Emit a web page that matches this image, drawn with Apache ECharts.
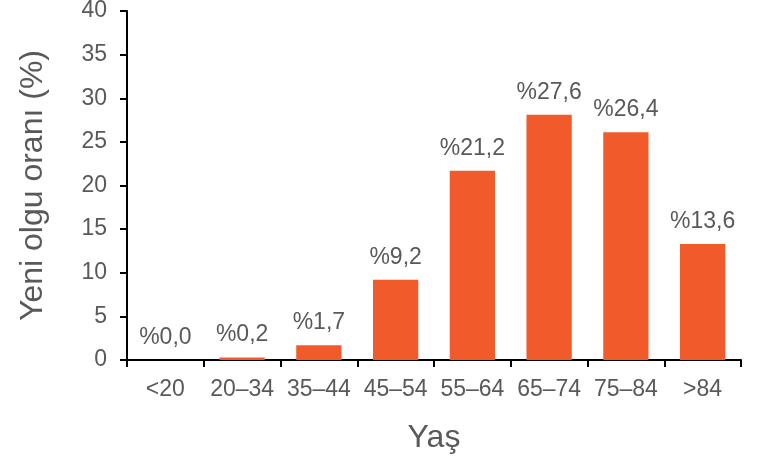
<!DOCTYPE html>
<html>
<head>
<meta charset="utf-8">
<script src="https://cdn.jsdelivr.net/npm/echarts@6/dist/echarts.min.js"></script>
<style>html,body{margin:0;padding:0;background:#fff;}#c{width:758px;height:461px;}</style>
</head>
<body>
<div id="c"></div>
<script>
var categories = ['<20', '20–34', '35–44', '45–54', '55–64', '65–74', '75–84', '>84'];
var barValues = [0, 0.3, 1.7, 9.2, 21.7, 28.1, 26.1, 13.3];
var barLabels = ['%0,0', '%0,2', '%1,7', '%9,2', '%21,2', '%27,6', '%26,4', '%13,6'];
var yTicks = [0, 5, 10, 15, 20, 25, 30, 35, 40];

var textColor = '#595959';
var font = 'Liberation Sans, Arial, sans-serif';
var chart = echarts.init(document.getElementById('c'), null, {renderer: 'canvas'});
chart.setOption({
  animation: false,
  grid: {left: 127, right: 17, top: 11, bottom: 101, containLabel: false, outerBoundsMode: 'none'},
  xAxis: {
    type: 'category',
    data: categories,
    name: 'Yaş',
    nameLocation: 'middle',
    nameGap: 62,
    nameTextStyle: {color: textColor, fontSize: 32, fontFamily: font},
    axisLine: {lineStyle: {color: '#000', width: 2}},
    axisTick: {show: true, alignWithLabel: false, length: 7, lineStyle: {color: '#000', width: 2}},
    axisLabel: {color: textColor, fontSize: 23, fontFamily: font, margin: 18, interval: 0}
  },
  yAxis: {
    type: 'value',
    min: yTicks[0],
    max: yTicks[yTicks.length - 1],
    interval: 5,
    name: 'Yeni olgu oranı (%)',
    nameLocation: 'middle',
    nameGap: 78,
    nameTextStyle: {color: textColor, fontSize: 32, fontFamily: font},
    axisLine: {show: true, lineStyle: {color: '#000', width: 2}},
    axisTick: {show: true, length: 7, lineStyle: {color: '#000', width: 2}},
    axisLabel: {color: textColor, fontSize: 23, fontFamily: font, margin: 20},
    splitLine: {show: false}
  },
  series: [{
    type: 'bar',
    data: barValues,
    barCategoryGap: '41%',
    itemStyle: {color: '#F15A2B'},
    label: {
      show: true,
      position: 'top',
      distance: 11,
      color: textColor,
      fontSize: 23,
      fontFamily: font,
      formatter: function (p) { return barLabels[p.dataIndex]; }
    }
  }]
});
</script>
</body>
</html>
